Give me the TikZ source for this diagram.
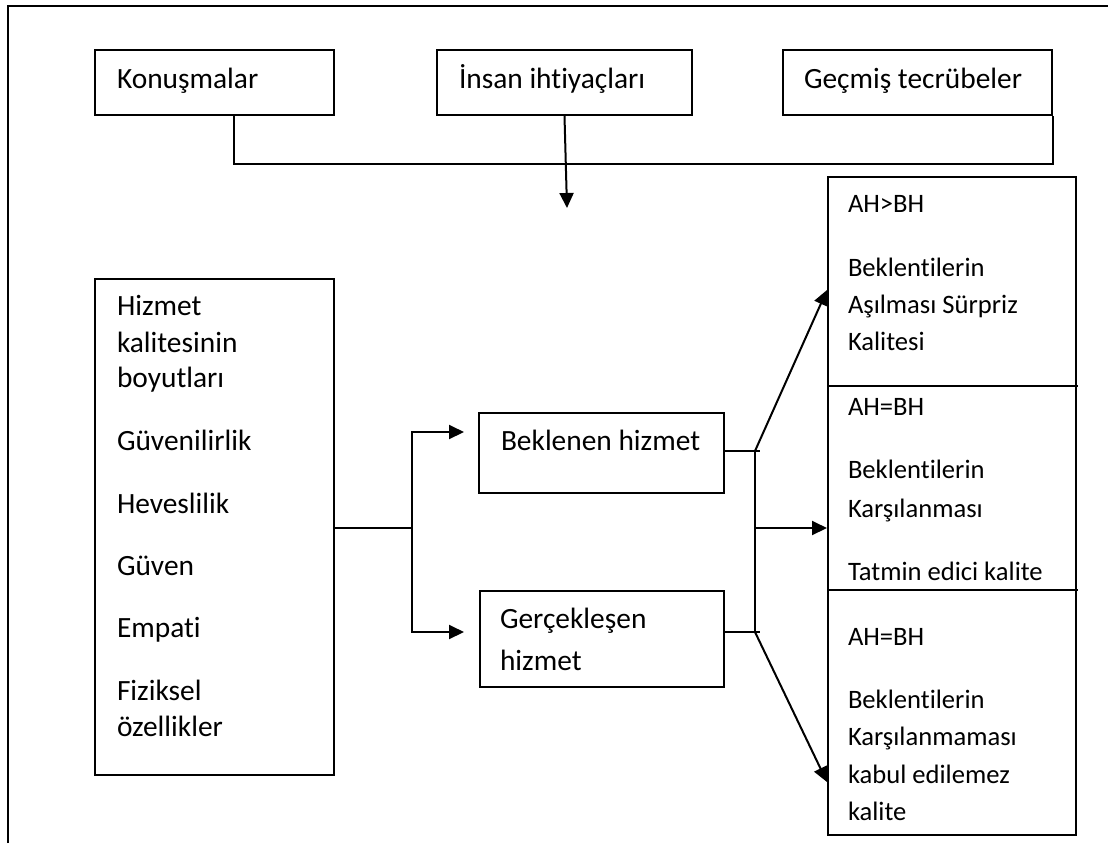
\documentclass[tikz,border=0pt]{standalone}
\usepackage{fontspec}
\setmainfont{Carlito}[Ligatures=NoCommon]
\usetikzlibrary{arrows.meta}
\begin{document}
\begin{tikzpicture}[x=0.5pt,y=-0.5pt,
  line width=1pt,
  box/.style={draw,line width=1pt,rectangle,inner sep=0pt,anchor=north west},
  txt/.style={anchor=base west,inner sep=0pt,font=\fontsize{14.7}{17}\selectfont},
  stxt/.style={anchor=base west,inner sep=0pt,font=\fontsize{13.3}{16}\selectfont},
  arr/.style={-{Triangle[length=7.5pt,width=7pt]}}]
\fill[white] (0,0) rectangle (1110,843);
\useasboundingbox (0,0) rectangle (1110,843);

% page frame (top and left edges)
\draw (8,843) -- (8,6) -- (1108,6);

% top row of sources
\node[box,minimum width=119.5pt,minimum height=32.5pt] (kon) at (94,49) {};
\node[box,minimum width=127.5pt,minimum height=32.5pt] (ins) at (436,49) {};
\node[box,minimum width=134.5pt,minimum height=32.5pt] (gec) at (782,49) {};
\node[txt] (konT) at (116,88) {Konuşmalar};
\node[txt] (insT) at (458,88) {İnsan ihtiyaçları};
\node[txt] (gecT) at (803,88) {Geçmiş tecrübeler};

% collecting line and downward arrow
\draw (kon.south west) ++(140,0) |- ([yshift=-24pt]gec.south east) -- (gec.south east);
\coordinate (insEnd) at (567,208);
\draw[arr] (ins.south) -- (insEnd);

% dimensions box
\node[box,minimum width=119.5pt,minimum height=248pt] (hiz) at (94,278) {};
\foreach \yy/\tt [count=\i] in {315/Hizmet,352/kalitesinin,387/boyutları,450/Güvenilirlik,513/Heveslilik,575/Güven,637/Empati,700/Fiziksel,736/özellikler}
  \node[txt] (hizT\i) at (116,\yy) {\tt};

% expected / perceived service
\node[box,minimum width=122.5pt,minimum height=40pt] (bek) at (478,412) {};
\node[box,minimum width=122pt,minimum height=48pt] (ger) at (479,590) {};
\node[txt] (bekT) at (500,450) {Beklenen hizmet};
\node[txt] (gerT1) at (499,628) {Gerçekleşen};
\node[txt] (gerT2) at (499,670) {hizmet};

\coordinate (split) at (412,528);
\coordinate (bekTip) at (464,432);
\coordinate (gerTip) at (464,632);
\draw (hiz.east |- split) -- (split);
\draw[arr] (split) |- (bekTip);
\draw[arr] (split) |- (gerTip);

% outcome box
\node[box,minimum width=124pt,minimum height=329pt] (son) at (827,176) {};
\draw (827,386) -- (1078,386);
\draw (827,590) -- (1078,590);
\foreach \yy/\tt [count=\i] in {212/AH>BH,276/Beklentilerin,313/Aşılması Sürpriz,350/Kalitesi,415/AH=BH,478/Beklentilerin,517/Karşılanması,580/Tatmin edici kalite,645/AH=BH,708/Beklentilerin,745/Karşılanmaması,783/kabul edilemez,820/kalite}
  \node[stxt] (sonT\i) at (847,\yy) {\tt};

% comparison connectors
\coordinate (r1) at (755,451);
\coordinate (r2) at (755,632);
\coordinate (rm) at (755,528);
\coordinate (a1) at (827,290);
\coordinate (a2) at (827,528);
\coordinate (a3) at (827,782);
\draw (bek.east |- r1) -- ++(35,0);
\draw (ger.east |- r2) -- ++(35,0);
\draw (r1) -- (r2);
\draw[arr] (r1) -- (a1);
\draw[arr] (rm) -- (a2);
\draw[arr] (r2) -- (a3);
\end{tikzpicture}
\end{document}
